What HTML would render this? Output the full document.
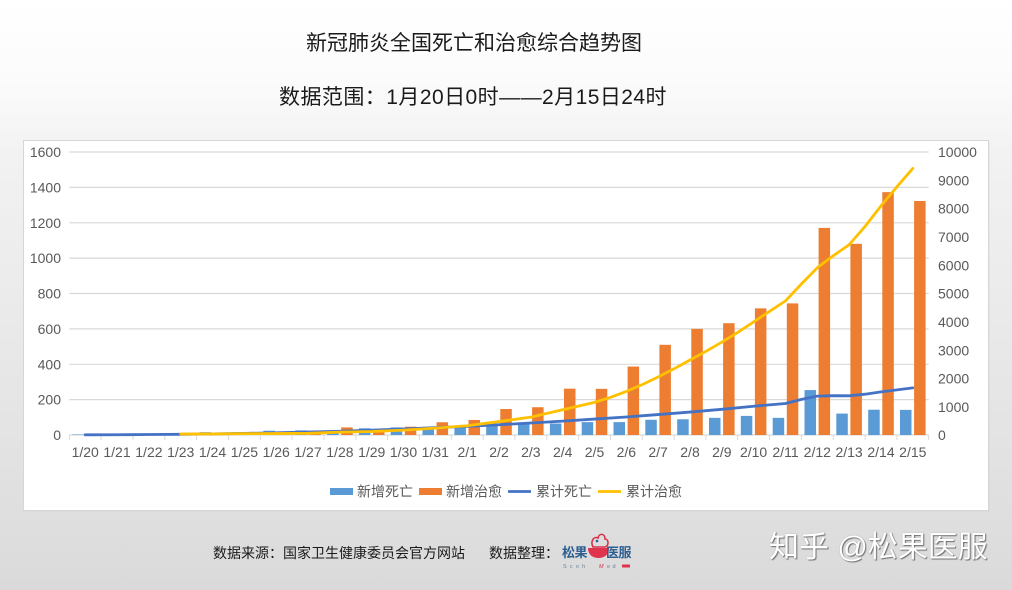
<!DOCTYPE html>
<html>
<head>
<meta charset="utf-8">
<style>
  html,body{margin:0;padding:0;}
  body{width:1012px;height:590px;overflow:hidden;position:relative;
    background:linear-gradient(to bottom,#ffffff 0%,#fbfbfb 14%,#f2f2f2 26%,#ebebeb 50%,#e3e3e3 75%,#dadada 100%);
    font-family:"Liberation Sans","Noto Sans CJK SC",sans-serif;}
  .t{position:absolute;white-space:nowrap;color:#1a1a1a;}
  svg{position:absolute;left:0;top:0;}
</style>
</head>
<body>
<div class="t" style="left:306px;top:31px;font-size:21px;line-height:26px;">新冠肺炎全国死亡和治愈综合趋势图</div>
<div class="t" style="left:279px;top:84px;font-size:21px;line-height:28px;letter-spacing:0.45px;">数据范围：1月20日0时——2月15日24时</div>

<svg width="1012" height="590" viewBox="0 0 1012 590" xmlns="http://www.w3.org/2000/svg" style="top:0;left:0;">
  <rect x="24.5" y="141.5" width="965" height="370" fill="#cfcfcf" opacity="0.5"/>
  <rect x="23.5" y="140.5" width="965" height="370" fill="#ffffff" stroke="#d6d6d6" stroke-width="1"/>
  <g stroke="#d9d9d9" stroke-width="1.2">
    <line x1="69.3" y1="152" x2="928.7" y2="152"/>
    <line x1="69.3" y1="187.4" x2="928.7" y2="187.4"/>
    <line x1="69.3" y1="222.8" x2="928.7" y2="222.8"/>
    <line x1="69.3" y1="258.1" x2="928.7" y2="258.1"/>
    <line x1="69.3" y1="293.5" x2="928.7" y2="293.5"/>
    <line x1="69.3" y1="328.9" x2="928.7" y2="328.9"/>
    <line x1="69.3" y1="364.3" x2="928.7" y2="364.3"/>
    <line x1="69.3" y1="399.6" x2="928.7" y2="399.6"/>
    <line x1="69.3" y1="435" x2="928.7" y2="435"/>
  </g>
  <g stroke="#d9d9d9" stroke-width="1">
    <line x1="69.3" y1="435" x2="69.3" y2="440"/><line x1="101.1" y1="435" x2="101.1" y2="440"/><line x1="133" y1="435" x2="133" y2="440"/><line x1="164.8" y1="435" x2="164.8" y2="440"/><line x1="196.6" y1="435" x2="196.6" y2="440"/><line x1="228.5" y1="435" x2="228.5" y2="440"/><line x1="260.3" y1="435" x2="260.3" y2="440"/><line x1="292.1" y1="435" x2="292.1" y2="440"/><line x1="324" y1="435" x2="324" y2="440"/><line x1="355.8" y1="435" x2="355.8" y2="440"/><line x1="387.6" y1="435" x2="387.6" y2="440"/><line x1="419.4" y1="435" x2="419.4" y2="440"/><line x1="451.3" y1="435" x2="451.3" y2="440"/><line x1="483.1" y1="435" x2="483.1" y2="440"/><line x1="514.9" y1="435" x2="514.9" y2="440"/><line x1="546.8" y1="435" x2="546.8" y2="440"/><line x1="578.6" y1="435" x2="578.6" y2="440"/><line x1="610.4" y1="435" x2="610.4" y2="440"/><line x1="642.2" y1="435" x2="642.2" y2="440"/><line x1="674.1" y1="435" x2="674.1" y2="440"/><line x1="705.9" y1="435" x2="705.9" y2="440"/><line x1="737.7" y1="435" x2="737.7" y2="440"/><line x1="769.6" y1="435" x2="769.6" y2="440"/><line x1="801.4" y1="435" x2="801.4" y2="440"/><line x1="833.2" y1="435" x2="833.2" y2="440"/><line x1="865.1" y1="435" x2="865.1" y2="440"/><line x1="896.9" y1="435" x2="896.9" y2="440"/><line x1="928.7" y1="435" x2="928.7" y2="440"/>
  </g>

  <g font-family="Liberation Sans, sans-serif" font-size="14" fill="#595959" text-anchor="end">
    <text x="61" y="157">1600</text><text x="61" y="192.4">1400</text><text x="61" y="227.8">1200</text><text x="61" y="263.1">1000</text><text x="61" y="298.5">800</text><text x="61" y="333.9">600</text><text x="61" y="369.3">400</text><text x="61" y="404.6">200</text><text x="61" y="440">0</text>
  </g>
  <g font-family="Liberation Sans, sans-serif" font-size="14" fill="#595959" text-anchor="start">
    <text x="938" y="157">10000</text><text x="938" y="185.3">9000</text><text x="938" y="213.6">8000</text><text x="938" y="242">7000</text><text x="938" y="270.3">6000</text><text x="938" y="298.7">5000</text><text x="938" y="327">4000</text><text x="938" y="355.3">3000</text><text x="938" y="383.7">2000</text><text x="938" y="412">1000</text><text x="938" y="440">0</text>
  </g>
  <g font-family="Liberation Sans, sans-serif" font-size="14" fill="#595959" text-anchor="middle">
    <text x="85.2" y="457">1/20</text><text x="117" y="457">1/21</text><text x="148.9" y="457">1/22</text><text x="180.7" y="457">1/23</text><text x="212.5" y="457">1/24</text><text x="244.4" y="457">1/25</text><text x="276.2" y="457">1/26</text><text x="308" y="457">1/27</text><text x="339.9" y="457">1/28</text><text x="371.7" y="457">1/29</text><text x="403.5" y="457">1/30</text><text x="435.3" y="457">1/31</text><text x="467.2" y="457">2/1</text><text x="499" y="457">2/2</text><text x="530.8" y="457">2/3</text><text x="562.7" y="457">2/4</text><text x="594.5" y="457">2/5</text><text x="626.3" y="457">2/6</text><text x="658.1" y="457">2/7</text><text x="690" y="457">2/8</text><text x="721.8" y="457">2/9</text><text x="753.6" y="457">2/10</text><text x="785.5" y="457">2/11</text><text x="817.3" y="457">2/12</text><text x="849.1" y="457">2/13</text><text x="881" y="457">2/14</text><text x="912.8" y="457">2/15</text>
  </g>

  <!-- new deaths -->
  <g fill="#5b9bd5">
    <rect x="72.4" y="434.47" width="11.5" height="0.53"/>
    <rect x="104.2" y="434.47" width="11.5" height="0.53"/>
    <rect x="136.1" y="433.58" width="11.5" height="1.42"/>
    <rect x="167.9" y="433.58" width="11.5" height="1.42"/>
    <rect x="199.7" y="432.17" width="11.5" height="2.83"/>
    <rect x="231.6" y="432.35" width="11.5" height="2.65"/>
    <rect x="263.4" y="430.75" width="11.5" height="4.25"/>
    <rect x="295.2" y="430.4" width="11.5" height="4.6"/>
    <rect x="327.1" y="430.4" width="11.5" height="4.6"/>
    <rect x="358.9" y="428.28" width="11.5" height="6.72"/>
    <rect x="390.7" y="427.39" width="11.5" height="7.61"/>
    <rect x="422.5" y="426.86" width="11.5" height="8.14"/>
    <rect x="454.4" y="427.04" width="11.5" height="7.96"/>
    <rect x="486.2" y="424.92" width="11.5" height="10.08"/>
    <rect x="518" y="423.68" width="11.5" height="11.32"/>
    <rect x="549.9" y="423.5" width="11.5" height="11.5"/>
    <rect x="581.7" y="422.09" width="11.5" height="12.91"/>
    <rect x="613.5" y="422.09" width="11.5" height="12.91"/>
    <rect x="645.3" y="419.79" width="11.5" height="15.21"/>
    <rect x="677.2" y="419.26" width="11.5" height="15.74"/>
    <rect x="709" y="417.84" width="11.5" height="17.16"/>
    <rect x="740.8" y="415.9" width="11.5" height="19.1"/>
    <rect x="772.7" y="417.84" width="11.5" height="17.16"/>
    <rect x="804.5" y="390.07" width="11.5" height="44.93"/>
    <rect x="836.3" y="413.6" width="11.5" height="21.4"/>
    <rect x="868.2" y="409.71" width="11.5" height="25.29"/>
    <rect x="900" y="409.88" width="11.5" height="25.12"/>
  </g>
  <!-- new cured -->
  <g fill="#ed7d31">
    <rect x="150.2" y="434.47" width="11.5" height="0.53"/>
    <rect x="182" y="433.94" width="11.5" height="1.06"/>
    <rect x="213.8" y="434.29" width="11.5" height="0.71"/>
    <rect x="245.7" y="433.05" width="11.5" height="1.95"/>
    <rect x="277.5" y="434.65" width="11.5" height="0.35"/>
    <rect x="309.3" y="433.41" width="11.5" height="1.59"/>
    <rect x="341.2" y="427.39" width="11.5" height="7.61"/>
    <rect x="373" y="431.29" width="11.5" height="3.71"/>
    <rect x="404.8" y="426.69" width="11.5" height="8.31"/>
    <rect x="436.6" y="422.26" width="11.5" height="12.74"/>
    <rect x="468.5" y="419.97" width="11.5" height="15.03"/>
    <rect x="500.3" y="409" width="11.5" height="26"/>
    <rect x="532.1" y="407.23" width="11.5" height="27.77"/>
    <rect x="564" y="388.66" width="11.5" height="46.34"/>
    <rect x="595.8" y="388.84" width="11.5" height="46.16"/>
    <rect x="627.6" y="366.55" width="11.5" height="68.45"/>
    <rect x="659.4" y="344.79" width="11.5" height="90.21"/>
    <rect x="691.3" y="328.87" width="11.5" height="106.13"/>
    <rect x="723.1" y="323.21" width="11.5" height="111.79"/>
    <rect x="754.9" y="308.36" width="11.5" height="126.64"/>
    <rect x="786.8" y="303.4" width="11.5" height="131.6"/>
    <rect x="818.6" y="227.88" width="11.5" height="207.12"/>
    <rect x="850.4" y="243.8" width="11.5" height="191.2"/>
    <rect x="882.3" y="192.15" width="11.5" height="242.85"/>
    <rect x="914.1" y="200.99" width="11.5" height="234.01"/>
  </g>
  <!-- cumulative deaths -->
  <polyline fill="none" stroke="#4472c4" stroke-width="2.8" stroke-linejoin="round" stroke-linecap="round"
    points="85.2,434.83 117,434.75 148.9,434.52 180.7,434.29 212.5,433.84 244.4,433.42 276.2,432.74 308,432 339.9,431.26 371.7,430.19 403.5,428.97 435.3,427.67 467.2,426.4 499,424.78 530.8,422.97 562.7,421.13 594.5,419.07 626.3,417 658.1,414.57 690,412.05 721.8,409.3 753.6,406.25 785.5,403.5 801,399.5 817.3,396.1 833,395.7 849.1,395.8 865,394.2 881,391.9 912.8,387.88"/>
  <!-- cumulative cured -->
  <polyline fill="none" stroke="#ffc000" stroke-width="2.8" stroke-linejoin="round" stroke-linecap="round"
    points="180.7,434.04 212.5,433.92 244.4,433.61 276.2,433.56 308,433.3 339.9,432.09 371.7,431.49 403.5,430.16 435.3,428.12 467.2,425.72 499,421.56 530.8,417.11 562.7,409.76 594.5,402.37 610.5,397.3 626.3,391.42 642.2,384.6 658.1,376.98 674,368.8 690,360.03 706,351.3 721.8,342.15 737.7,332.4 753.6,321.91 769.6,311.3 785.5,300.86 801.4,284 817.3,267.72 833.2,255.8 849.1,244.74 865,226.5 881,205.88 896.9,186.8 912.8,168.44"/>

  <!-- legend -->
  <rect x="330" y="488" width="23" height="7" fill="#5b9bd5"/>
  <rect x="419" y="488" width="23" height="7" fill="#ed7d31"/>
  <line x1="508" y1="491.5" x2="531" y2="491.5" stroke="#4472c4" stroke-width="2.8"/>
  <line x1="598" y1="491.5" x2="621" y2="491.5" stroke="#ffc000" stroke-width="2.8"/>
  <g font-family="Liberation Sans, Noto Sans CJK SC, sans-serif" font-size="14" fill="#595959">
    <text x="357" y="496.5">新增死亡</text>
    <text x="446" y="496.5">新增治愈</text>
    <text x="536" y="496.5">累计死亡</text>
    <text x="626" y="496.5">累计治愈</text>
  </g>

  <!-- logo cup -->
  <path d="M593,547 C590,541 594,536 598,538 C599,533 605,533 605,539 C609,539 609,546 605,547 Z" fill="none" stroke="#d9304a" stroke-width="1.6"/>
  <circle cx="597" cy="541" r="1.3" fill="#2a5d8f"/>
  <path d="M588,548 L609,548 C609,555 604,558 598.5,558 C593,558 588,555 588,548 Z" fill="#e0344e"/>
  <g font-family="Liberation Sans, sans-serif" font-size="5.5" fill="#6a7f95">
    <text x="563" y="568" letter-spacing="3.2">Scoh</text>
    <text x="599" y="568" fill="#d9304a" font-style="italic">M</text>
    <text x="607" y="568" letter-spacing="2.5">ed</text>
  </g>
  <rect x="622" y="564.5" width="8" height="3" fill="#e0344e"/>
</svg>

<div class="t" style="left:213px;top:544px;font-size:14px;line-height:18px;color:#1a1a1a;">数据来源：国家卫生健康委员会官方网站</div>
<div class="t" style="left:489px;top:544px;font-size:14px;line-height:18px;color:#1a1a1a;">数据整理：</div>
<div class="t" style="left:562px;top:545px;font-size:13px;line-height:16px;color:#2f5f90;font-weight:bold;letter-spacing:-0.5px;">松果</div>
<div class="t" style="left:606px;top:545px;font-size:13px;line-height:16px;color:#2f5f90;font-weight:bold;letter-spacing:-0.5px;">医服</div>

<div class="t" style="left:769px;top:530px;font-size:30px;line-height:36px;color:#ffffff;text-shadow:1px 1px 1px #6e6e6e,0 0 1px #9a9a9a;font-family:'Liberation Sans','Noto Sans CJK SC',sans-serif;">知乎 @松果医服</div>
</body>
</html>
